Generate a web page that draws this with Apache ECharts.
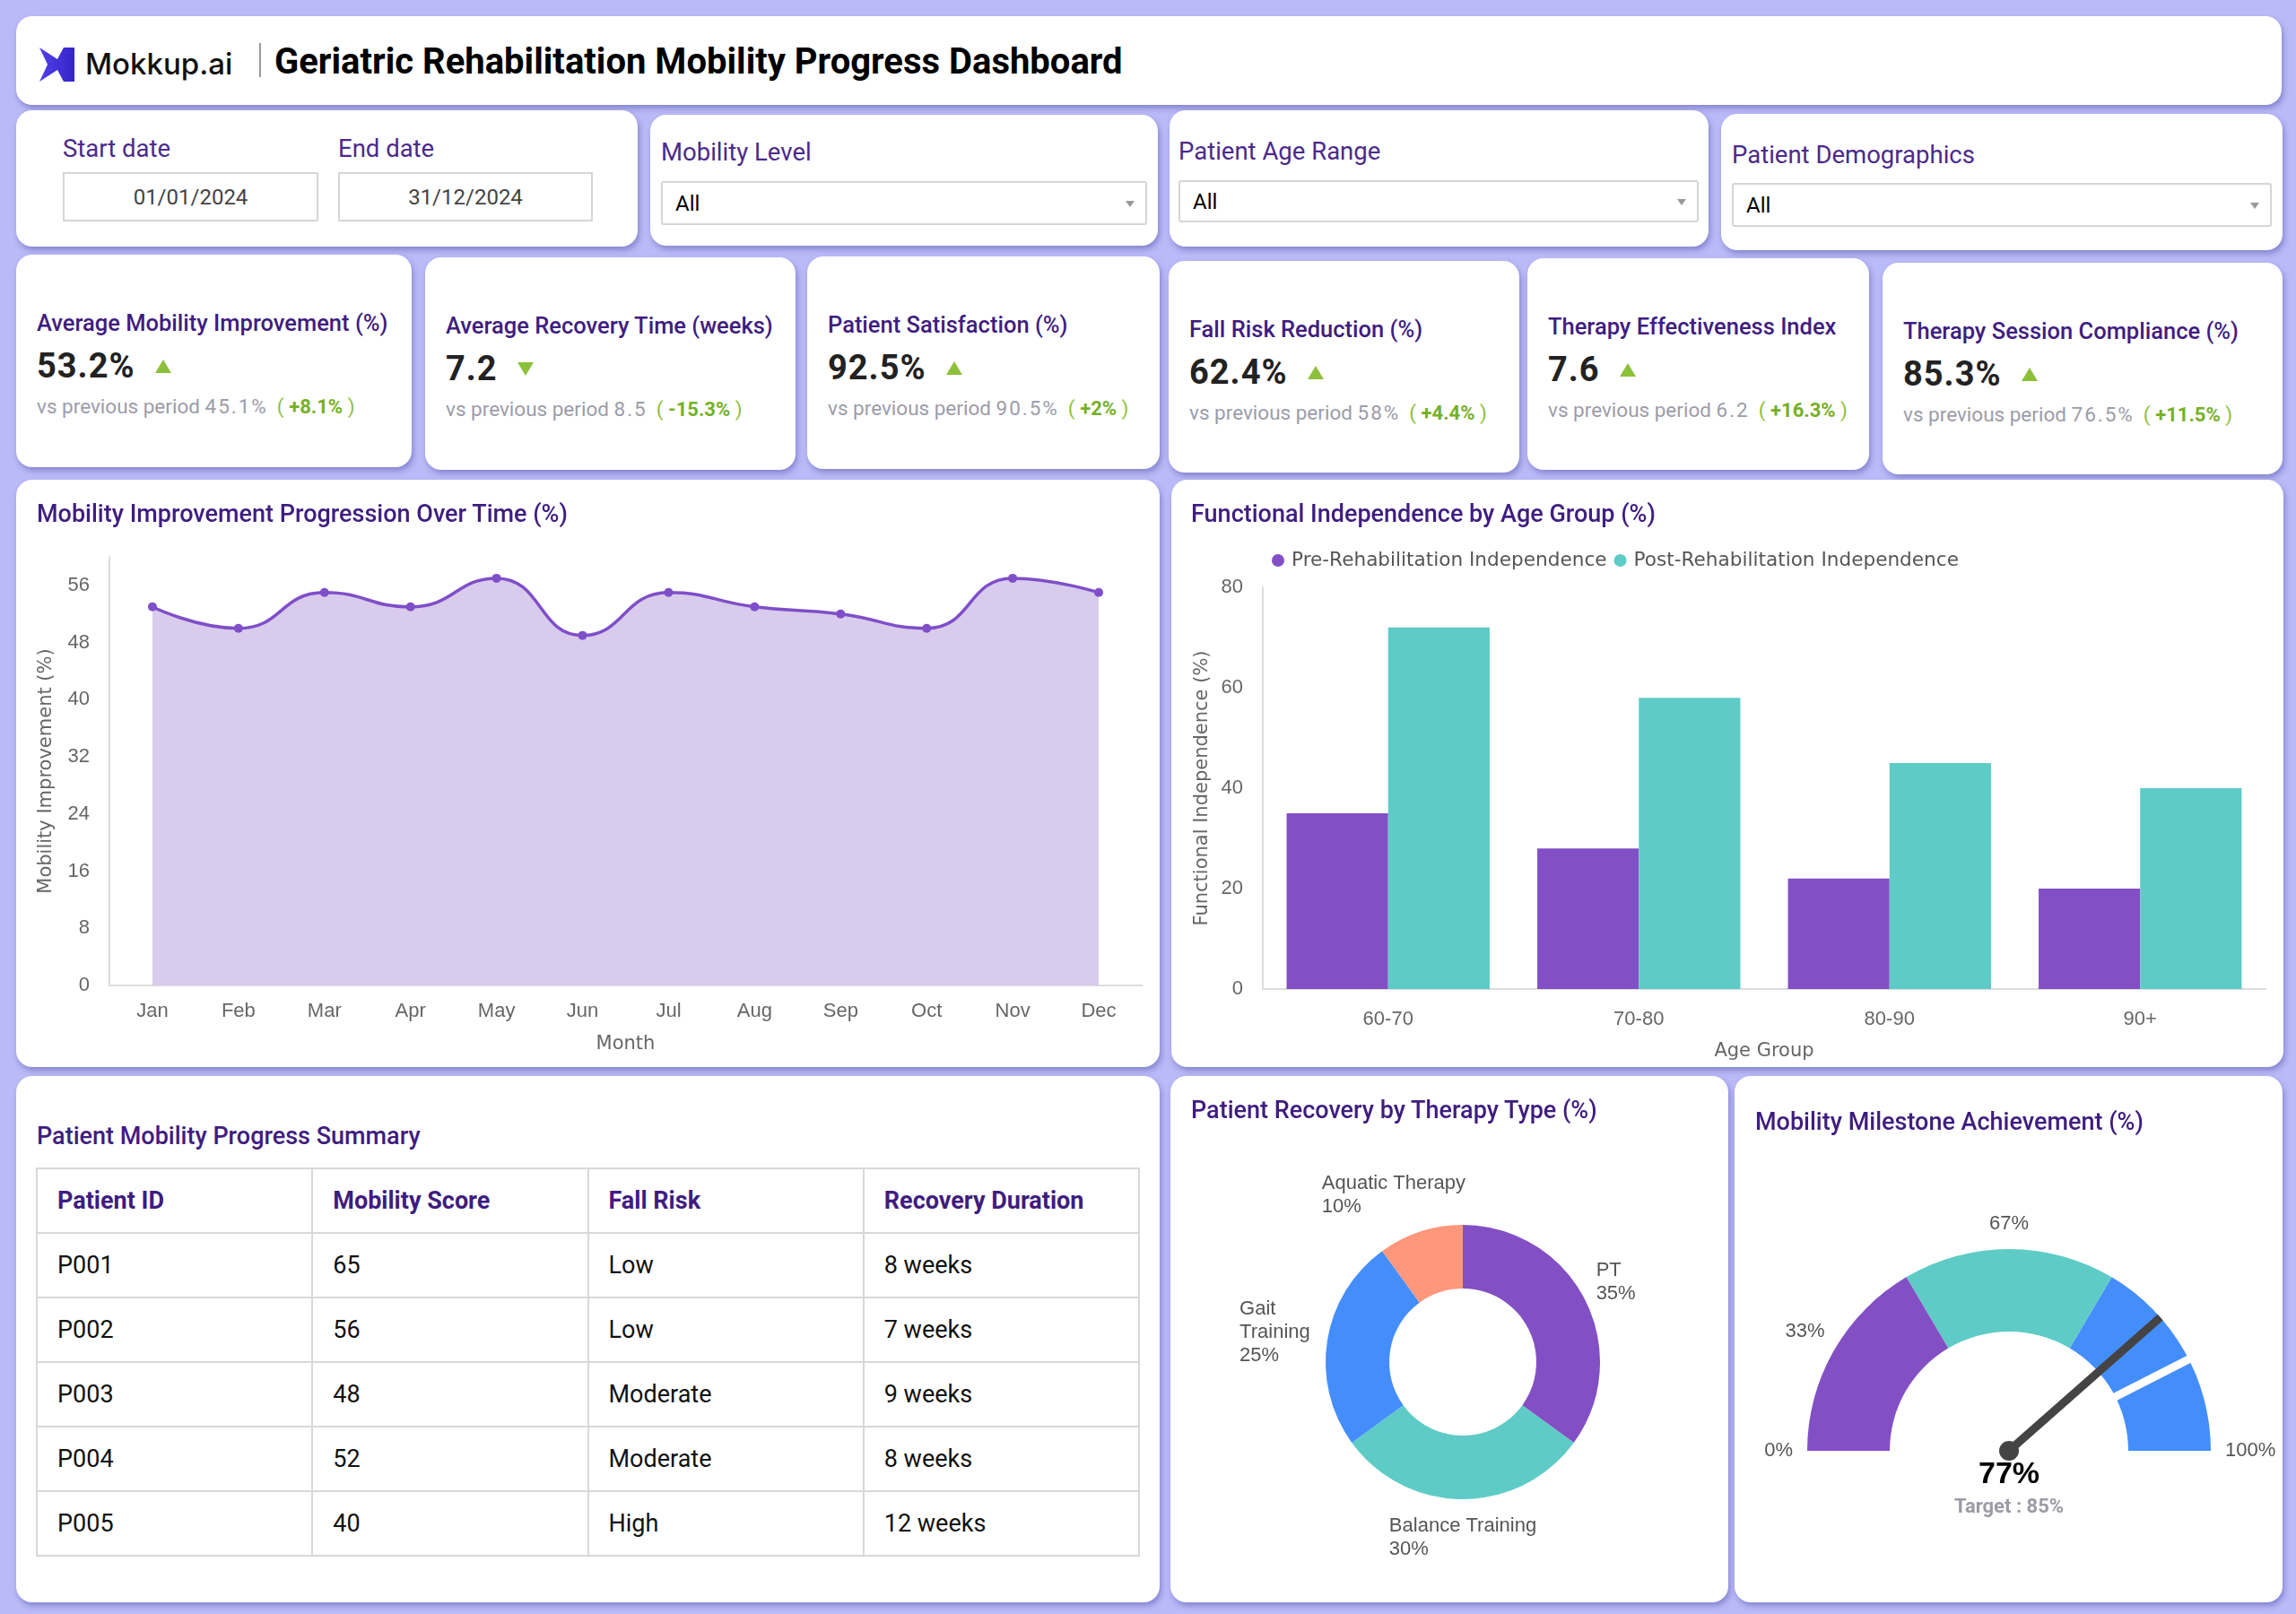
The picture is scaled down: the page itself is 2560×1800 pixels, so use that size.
<!DOCTYPE html>
<html><head><meta charset="utf-8">
<title>Geriatric Rehabilitation Mobility Progress Dashboard</title>
<script src="https://cdn.jsdelivr.net/npm/echarts@6.0.0/dist/echarts.min.js"></script>
<style>
*{box-sizing:border-box}
html,body{margin:0;padding:0}
body{width:2560px;height:1800px;background:#BABAF8;font-family:Roboto,"Liberation Sans",sans-serif;position:relative;overflow:hidden}
.card{position:absolute;background:#fff;border-radius:18px;box-shadow:2px 4px 6px rgba(70,70,160,.45)}
.abs{position:absolute;white-space:nowrap}
.ttl{color:#3F1D7F;font-weight:500;font-size:27px;line-height:30px}
.flabel{color:#4B2A8A;font-size:27.5px;line-height:30px}
.dd{position:absolute;border:2px solid #d6d6d6;border-radius:3px;background:#fff;font-size:24px;color:#000}
.dd span{position:absolute;left:14px;top:50%;transform:translateY(-50%)}
.dd i{position:absolute;right:12px;top:50%;margin-top:-3px;border-left:5px solid transparent;border-right:5px solid transparent;border-top:7px solid #999}
.datebox{position:absolute;border:2px solid #d6d6d6;font-size:24px;color:#444;display:flex;align-items:center;justify-content:center}
.kt{color:#3F1D7F;font-weight:500;font-size:25.5px;line-height:30px}
.kvrow{display:flex;align-items:center;height:46px}
.kv{font-weight:700;font-size:38px;color:#222;letter-spacing:1px}
.tri{margin-left:22px;width:0;height:0;border-left:9px solid transparent;border-right:9px solid transparent}
.tri.up{border-bottom:15px solid #8DC03A}
.tri.down{border-top:15px solid #8DC03A}
.ks{font-size:22.5px;color:#9c9ca8;line-height:30px}
.ks .num{letter-spacing:2px}
.ks .chg{color:#8DC03A;margin-left:10px}
.ks .chg b{color:#76B02A;font-weight:700;font-size:22px}
.chart{position:absolute;left:0;top:0;right:0;bottom:0}
table{position:absolute;border-collapse:collapse;table-layout:fixed}
th,td{border:2px solid #d8d8d8;height:72px;padding:0 0 0 22px;text-align:left;font-size:27px;white-space:nowrap}
th{color:#3F1D7F;font-weight:700}
td{color:#111;font-weight:400}
</style>
</head>
<body>
<script>
// ---------- data ----------
const months = ['Jan','Feb','Mar','Apr','May','Jun','Jul','Aug','Sep','Oct','Nov','Dec'];
const mobilityImprovement = [53, 50, 55, 53, 57, 49, 55, 53, 52, 50, 57, 55];

const ageGroups = ['60-70','70-80','80-90','90+'];
const preRehab = [35, 28, 22, 20];
const postRehab = [72, 58, 45, 40];

const therapyTypes = ['PT','Balance Training','Gait Training','Aquatic Therapy'];
const therapyShares = [35, 30, 25, 10];

const milestoneValue = 77;
const milestoneTarget = 85;
const milestoneBands = [33, 67, 100];
const gaugeTickLabels = ['0%','33%','','67%','','','100%'];

const kpiTitles = ['Average Mobility Improvement (%)','Average Recovery Time (weeks)','Patient Satisfaction (%)','Fall Risk Reduction (%)','Therapy Effectiveness Index','Therapy Session Compliance (%)'];
const kpiValues = ['53.2%','7.2','92.5%','62.4%','7.6','85.3%'];
const kpiPrevious = ['45.1%','8.5','90.5%','58%','6.2','76.5%'];
const kpiChange = ['+8.1%','-15.3%','+2%','+4.4%','+16.3%','+11.5%'];
const kpiDirection = ['up','down','up','up','up','up'];

const tableHeaders = ['Patient ID','Mobility Score','Fall Risk','Recovery Duration'];
const patientIds = ['P001','P002','P003','P004','P005'];
const mobilityScores = [65, 56, 48, 52, 40];
const fallRisks = ['Low','Low','Moderate','Moderate','High'];
const recoveryDurations = ['8 weeks','7 weeks','9 weeks','8 weeks','12 weeks'];

const startDate = '01/01/2024';
const endDate = '31/12/2024';
const filterLabels = ['Mobility Level','Patient Age Range','Patient Demographics'];
const filterValues = ['All','All','All'];
</script>

<!-- header -->
<div class="card" style="left:18px;top:18px;width:2526px;height:99px">
  <svg class="abs" style="left:26px;top:35px" width="40" height="38" viewBox="0 0 40 38">
    <defs><linearGradient id="lg" x1="0" y1="0" x2="1" y2="0"><stop offset="0" stop-color="#5140E6"/><stop offset="1" stop-color="#3424C9"/></linearGradient></defs>
    <path d="M0 0 L20 13 L27 0 L39 0 L39 38 L27 38 L20 25 L0 38 L9 19 Z" fill="url(#lg)"/>
  </svg>
  <div class="abs" style="left:77px;top:33px;font-family:Inter,Roboto,sans-serif;font-weight:500;font-size:33px;line-height:40px;color:#111">Mokkup.ai</div>
  <div class="abs" style="left:271px;top:30px;width:2px;height:38px;background:#9a9a9a"></div>
  <div class="abs" style="left:288px;top:28px;font-weight:700;font-size:40px;line-height:46px;color:#000">Geriatric Rehabilitation Mobility Progress Dashboard</div>
</div>

<!-- filters -->
<div class="card" style="left:18px;top:123px;width:693px;height:152px">
  <div class="abs flabel" style="left:52px;top:28px">Start date</div>
  <div class="abs flabel" style="left:359px;top:28px">End date</div>
  <div class="datebox" id="sd" style="left:52px;top:69px;width:285px;height:55px"></div>
  <div class="datebox" id="ed" style="left:359px;top:69px;width:284px;height:55px"></div>
</div>
<div class="card" id="f0" style="left:725px;top:128px;width:566px;height:146px">
  <div class="abs flabel" style="left:12px;top:27px"></div>
  <div class="dd" style="left:12px;top:74px;width:542px;height:49px"><span></span><i></i></div>
</div>
<div class="card" id="f1" style="left:1304px;top:123px;width:601px;height:152px">
  <div class="abs flabel" style="left:10px;top:31px"></div>
  <div class="dd" style="left:10px;top:78px;width:580px;height:47px"><span></span><i></i></div>
</div>
<div class="card" id="f2" style="left:1919px;top:127px;width:626px;height:152px">
  <div class="abs flabel" style="left:12px;top:31px"></div>
  <div class="dd" style="left:12px;top:77px;width:602px;height:49px"><span></span><i></i></div>
</div>

<div id="kpis"></div>

<!-- charts row -->
<div class="card" style="left:18px;top:535px;width:1275px;height:655px">
  <div class="chart" id="lineChart"></div>
  <div class="abs ttl" style="left:23px;top:23px">Mobility Improvement Progression Over Time (%)</div>
</div>
<div class="card" style="left:1306px;top:535px;width:1240px;height:655px">
  <div class="chart" id="barChart"></div>
  <div class="abs ttl" style="left:22px;top:23px">Functional Independence by Age Group (%)</div>
</div>

<!-- bottom row -->
<div class="card" style="left:18px;top:1200px;width:1275px;height:587px">
  <div class="abs ttl" style="left:23px;top:52px">Patient Mobility Progress Summary</div>
</div>
<table id="tbl" style="left:40px;top:1302px;width:1231px"></table>
<div class="card" style="left:1305px;top:1200px;width:622px;height:587px">
  <div class="chart" id="pieChart"></div>
  <div class="abs ttl" style="left:23px;top:23px">Patient Recovery by Therapy Type (%)</div>
</div>
<div class="card" style="left:1934px;top:1200px;width:611px;height:587px">
  <div class="chart" id="gaugeChart"></div>
  <div class="abs ttl" style="left:23px;top:36px">Mobility Milestone Achievement (%)</div>
</div>

<script>
// filters
document.getElementById('sd').textContent = startDate;
document.getElementById('ed').textContent = endDate;
['f0','f1','f2'].forEach((id,i)=>{
  const c = document.getElementById(id);
  c.querySelector('.flabel').textContent = filterLabels[i];
  c.querySelector('.dd span').textContent = filterValues[i];
});

// KPI cards (box geometry only)
const kpiBoxes = [[18,284,441,237],[474,287,413,237],[900,286,393,237],[1303,291,391,236],[1703,288,381,236],[2099,293,446,236]];
const kpiWrap = document.getElementById('kpis');
kpiTitles.forEach((t,i)=>{
  const b = kpiBoxes[i];
  const d = document.createElement('div');
  d.className = 'card';
  d.style.cssText = `left:${b[0]}px;top:${b[1]}px;width:${b[2]}px;height:${b[3]}px`;
  d.innerHTML = `<div class="abs kt" style="left:23px;top:61px">${t}</div>
   <div class="abs kvrow" style="left:23px;top:101px"><span class="kv">${kpiValues[i]}</span><span class="tri ${kpiDirection[i]}"></span></div>
   <div class="abs ks" style="left:23px;top:154px">vs previous period <span class="num">${kpiPrevious[i]}</span><span class="chg">( <b>${kpiChange[i]}</b> )</span></div>`;
  kpiWrap.appendChild(d);
});

// table
const tbl = document.getElementById('tbl');
let html = '<tr>' + tableHeaders.map(h=>`<th>${h}</th>`).join('') + '</tr>';
patientIds.forEach((p,i)=>{
  html += `<tr><td>${p}</td><td>${mobilityScores[i]}</td><td>${fallRisks[i]}</td><td>${recoveryDurations[i]}</td></tr>`;
});
tbl.innerHTML = html;

const PURPLE = '#834FC4', TEAL = '#5ECBC6', BLUE = '#448EFC', SALMON = '#FF977C';
const axisNameStyle = {fontFamily:'DejaVu Sans', fontSize:21, color:'#666'};
const tickStyle = {fontFamily:'Liberation Sans', fontSize:22, color:'#666'};

// line chart
echarts.init(document.getElementById('lineChart')).setOption({
  animation:false,
  grid:{left:104,right:20,top:86,bottom:91},
  xAxis:{type:'category',data:months,boundaryGap:true,name:'Month',nameLocation:'middle',nameGap:55,
    nameTextStyle:axisNameStyle,axisLine:{lineStyle:{color:'#dddddd',width:2}},axisTick:{show:false},
    axisLabel:Object.assign({margin:18},tickStyle)},
  yAxis:{type:'value',min:0,max:60,interval:8,name:'Mobility Improvement (%)',nameLocation:'middle',nameGap:60,
    nameTextStyle:axisNameStyle,axisLine:{show:true,lineStyle:{color:'#dddddd',width:2}},axisTick:{show:false},
    splitLine:{show:false},axisLabel:Object.assign({margin:22,showMaxLabel:false},tickStyle)},
  series:[{type:'line',data:mobilityImprovement,smooth:0.5,symbol:'circle',symbolSize:10,
    lineStyle:{color:'#7E4FC8',width:3.5},itemStyle:{color:'#7E4FC8'},
    areaStyle:{color:'#D9CBEC',opacity:1}}]
});

// bar chart
echarts.init(document.getElementById('barChart')).setOption({
  animation:false,
  grid:{left:102,right:20,top:120,bottom:87},
  legend:{top:74,left:107,itemWidth:20,itemHeight:14,itemGap:8,icon:'circle',
    textStyle:{fontFamily:'DejaVu Sans',fontSize:21.6,color:'#555'}},
  xAxis:{type:'category',data:ageGroups,name:'Age Group',nameLocation:'middle',nameGap:59,
    nameTextStyle:axisNameStyle,axisLine:{lineStyle:{color:'#dddddd',width:2}},axisTick:{show:false},
    axisLabel:Object.assign({margin:23},tickStyle)},
  yAxis:{type:'value',min:0,max:80,interval:20,name:'Functional Independence (%)',nameLocation:'middle',nameGap:57,
    nameTextStyle:axisNameStyle,axisLine:{show:true,lineStyle:{color:'#dddddd',width:2}},axisTick:{show:false},
    splitLine:{show:false},axisLabel:Object.assign({margin:22},tickStyle)},
  series:[
    {name:'Pre-Rehabilitation Independence',type:'bar',data:preRehab,barGap:'0%',barCategoryGap:'19%',itemStyle:{color:PURPLE}},
    {name:'Post-Rehabilitation Independence',type:'bar',data:postRehab,barGap:'0%',barCategoryGap:'19%',itemStyle:{color:TEAL}}
  ]
});

// donut
const pieColors = [PURPLE, TEAL, BLUE, SALMON];
const PCX = 326, PCY = 319, PR = 153, PLR = 169.5;
echarts.init(document.getElementById('pieChart')).setOption({
  animation:false,
  series:[{type:'pie',center:[PCX,PCY],radius:[82,PR],startAngle:90,clockwise:true,avoidLabelOverlap:false,
    data:therapyTypes.map((n,i)=>{
      const d = {name:n,value:therapyShares[i],itemStyle:{color:pieColors[i]}};
      if (n === 'Gait Training') d.label = {width:82,overflow:'break'};
      return d;
    }),
    label:{show:true,position:'outside',formatter:'{b}\n{c}%',fontFamily:'Liberation Sans',fontSize:22,lineHeight:26,color:'#555'},
    labelLine:{show:false,length:10,length2:0},
    labelLayout:function(p){
      const total = therapyShares.reduce((a,b)=>a+b,0);
      let cum = 0; for (let i=0;i<p.dataIndex;i++) cum += therapyShares[i];
      const mid = (cum + therapyShares[p.dataIndex]/2)/total;
      const ang = Math.PI/2 - mid*2*Math.PI;
      const c = Math.cos(ang), s = Math.sin(ang);
      const ax = PCX + PLR*c, ay = PCY - PLR*s;
      const w = p.labelRect.width, h = p.labelRect.height;
      return {x: ax - w*(1-c)/2, y: ay - h*(1+s)/2, align:'left', verticalAlign:'top'};
    }
  }]
});

// gauge
const gaugeColors = [PURPLE, TEAL, BLUE];
echarts.init(document.getElementById('gaugeChart')).setOption({
  animation:false,
  series:[
    {type:'gauge',center:[306,418],radius:225,startAngle:180,endAngle:0,min:0,max:100,splitNumber:6,z:2,
      axisLine:{lineStyle:{width:92,color:milestoneBands.map((b,i)=>[b/100,gaugeColors[i]])}},
      splitLine:{show:false,length:0,distance:0},axisTick:{show:false},
      axisLabel:{distance:-41,fontFamily:'Liberation Sans',fontSize:22,color:'#555',
        formatter:function(v){
          const idx = Math.round(v/(100/6));
          const t = gaugeTickLabels[idx];
          if (!t) return '';
          const tok = idx < 3 ? 'l' : (idx === 3 ? 'c' : 'r');
          return '{'+tok+'|'+t+'}';
        },
        rich:{
          l:{width:25,align:'right',fontFamily:'Liberation Sans',fontSize:22,color:'#555'},
          r:{width:25,align:'left',fontFamily:'Liberation Sans',fontSize:22,color:'#555'},
          c:{align:'center',fontFamily:'Liberation Sans',fontSize:22,color:'#555',lineHeight:26}
        }},
      pointer:{show:false},anchor:{show:false},title:{show:false},detail:{show:false},
      data:[{value:milestoneValue}]},
    {type:'gauge',center:[306,418],radius:225,startAngle:180,endAngle:0,min:0,max:100,z:3,
      axisLine:{show:false},splitLine:{show:false},axisTick:{show:false},axisLabel:{show:false},
      pointer:{show:true,icon:'rect',width:9,length:104,offsetCenter:[0,-128],itemStyle:{color:'#ffffff'}},
      anchor:{show:false},title:{show:false},detail:{show:false},
      data:[{value:milestoneTarget}]},
    {type:'gauge',center:[306,418],radius:225,startAngle:180,endAngle:0,min:0,max:100,z:4,
      axisLine:{show:false},splitLine:{show:false},axisTick:{show:false},axisLabel:{show:false},
      pointer:{show:true,icon:'rect',width:9,length:'100%',itemStyle:{color:'#444444'}},
      anchor:{show:true,showAbove:true,size:22,itemStyle:{color:'#444444'}},
      title:{show:false},
      detail:{show:true,offsetCenter:[0,44],
        formatter:function(v){return '{v|'+v+'%}\n{t|Target : '+milestoneTarget+'%}';},
        rich:{
          v:{fontFamily:'Liberation Sans',fontSize:34,fontWeight:'bold',color:'#000',lineHeight:38},
          t:{fontFamily:'Roboto',fontSize:22,color:'#9b9ba6',lineHeight:34}
        }},
      data:[{value:milestoneValue}]}
  ]
});
</script>
</body></html>
